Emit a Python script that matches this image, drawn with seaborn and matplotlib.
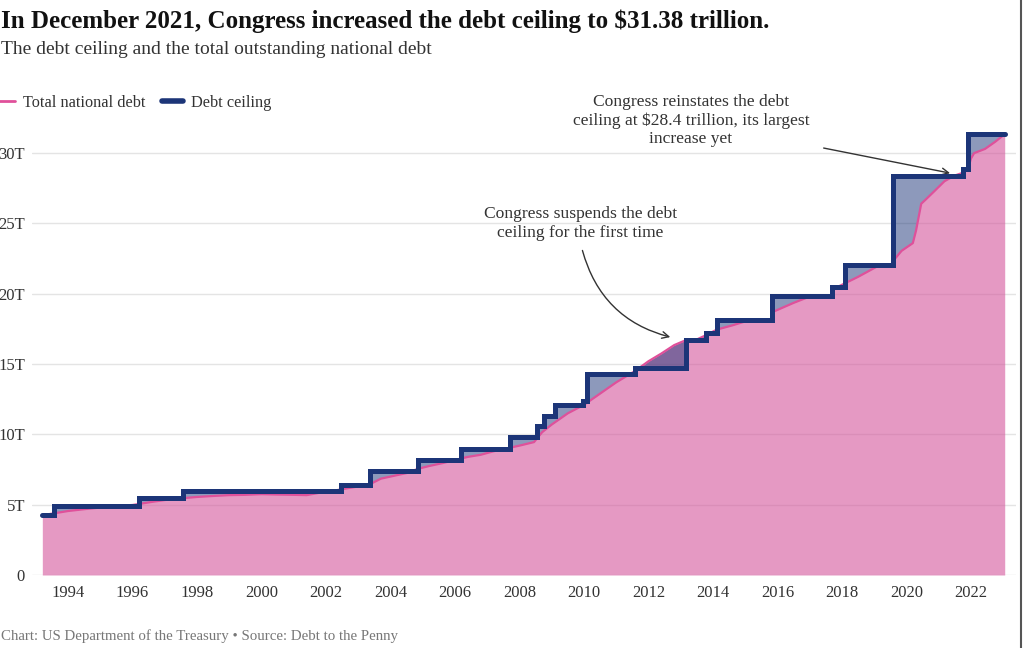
import numpy as np
import matplotlib
matplotlib.use('Agg')
import matplotlib.pyplot as plt
from matplotlib.lines import Line2D
import seaborn as sns

# Debt ceiling steps: year the new limit took effect, limit in trillions
ceiling_years = [1993.2, 1993.55, 1996.2, 1997.57, 2002.47, 2003.37, 2004.85, 2006.18,
                 2007.7, 2008.53, 2008.75, 2009.1, 2009.98, 2010.1, 2011.58, 2013.16,
                 2013.78, 2014.12, 2015.83, 2017.68, 2018.1, 2019.6, 2021.75, 2021.92, 2023.07]
ceiling_values = [4.25, 4.9, 5.5, 5.95, 6.4, 7.384, 8.184, 8.965,
                  9.815, 10.615, 11.315, 12.104, 12.394, 14.294, 14.694, 16.699,
                  17.2, 18.113, 19.809, 20.456, 22.03, 28.401, 28.881, 31.381, 31.381]

# Total outstanding debt (trillions)
debt_years = [1993.2, 1993.6, 1994.0, 1994.5, 1995.0, 1995.5, 1996.0, 1996.2, 1996.6,
              1997.0, 1997.5, 1998.0, 1998.5, 1999.0, 1999.5, 2000.0, 2000.5, 2001.0,
              2001.4, 2001.8, 2002.2, 2002.5, 2003.0, 2003.4, 2003.7, 2004.0, 2004.5,
              2004.85, 2005.2, 2005.6, 2006.0, 2006.4, 2006.8, 2007.2, 2007.7, 2008.0,
              2008.45, 2008.7, 2009.0, 2009.5, 2010.0, 2010.5, 2011.0, 2011.58, 2012.0,
              2012.4, 2012.8, 2013.16, 2013.5, 2013.78, 2014.12, 2014.6, 2015.1, 2015.8,
              2015.9, 2016.5, 2017.0, 2017.68, 2017.75, 2018.1, 2018.5, 2019.1, 2019.55,
              2019.65, 2019.85, 2020.2, 2020.3, 2020.46, 2020.6, 2020.87, 2021.18, 2021.49,
              2021.75, 2021.92, 2022.0, 2022.1, 2022.44, 2022.75, 2023.05]
debt_values = [4.25, 4.40, 4.55, 4.68, 4.80, 4.90, 4.98, 5.05, 5.20,
               5.33, 5.45, 5.55, 5.62, 5.68, 5.70, 5.75, 5.72, 5.70,
               5.68, 5.85, 5.98, 6.10, 6.30, 6.50, 6.85, 7.00, 7.25,
               7.55, 7.75, 7.95, 8.18, 8.40, 8.55, 8.80, 9.05, 9.20,
               9.45, 10.15, 10.70, 11.50, 12.10, 12.90, 13.70, 14.50, 15.20,
               15.75, 16.35, 16.70, 16.75, 17.05, 17.45, 17.75, 18.10, 18.20,
               18.75, 19.35, 19.80, 19.85, 20.35, 20.75, 21.20, 21.95, 22.05,
               22.50, 23.05, 23.60, 24.50, 26.40, 26.70, 27.30, 28.00, 28.40,
               28.60, 28.90, 29.60, 30.00, 30.30, 30.80, 31.35]

year_ticks = list(range(1994, 2023, 2))
value_ticks = [0, 5, 10, 15, 20, 25, 30]
value_labels = ['0', '5T', '10T', '15T', '20T', '25T', '30T']

NAVY = '#1c3578'
PINK_LINE = '#e0509a'
PINK_FILL = '#d4569c'

sns.set_theme(style='white')
plt.rcParams['font.family'] = ['Liberation Serif', 'DejaVu Serif']

fig = plt.figure(figsize=(10.24, 6.48), dpi=100)
ax = fig.add_axes([32 / 1024, 73 / 648, (1016 - 32) / 1024, (575 - 125) / 648])

# Pink area under the total debt
ax.fill_between(debt_years, 0, debt_values, color=PINK_FILL, alpha=0.6, lw=0, zorder=1)

# Gap between ceiling and debt on a common grid
grid = np.union1d(np.linspace(debt_years[0], debt_years[-1], 2000), ceiling_years[:-1])
debt_on_grid = np.interp(grid, debt_years, debt_values)
idx = np.searchsorted(ceiling_years, grid, side='right') - 1
ceiling_on_grid = np.array(ceiling_values)[np.clip(idx, 0, len(ceiling_values) - 1)]
ax.fill_between(grid, debt_on_grid, ceiling_on_grid, color=NAVY, alpha=0.5, lw=0, zorder=2)

sns.lineplot(x=debt_years, y=debt_values, color=PINK_LINE, lw=1.6, ax=ax, zorder=3)
sns.lineplot(x=ceiling_years, y=ceiling_values, color=NAVY, lw=3.6, drawstyle='steps-post',
             ax=ax, zorder=4, solid_capstyle='round', solid_joinstyle='miter')

ax.set_xlim(1992.88, 2023.4)
ax.set_ylim(0, 32)
ax.set_xticks(year_ticks)
ax.set_xticklabels([str(y) for y in year_ticks])
ax.set_yticks(value_ticks)
ax.set_yticklabels(value_labels)
ax.tick_params(axis='both', length=0, labelsize=12, colors='#333333')
ax.tick_params(axis='x', pad=7)
ax.tick_params(axis='y', pad=5)
ax.grid(axis='y', color='#e4e4e4', lw=1)
ax.set_axisbelow(True)
for s in ax.spines.values():
    s.set_visible(False)
ax.set_xlabel('')
ax.set_ylabel('')

# Annotations
ax.text(2013.32, 32.3, 'Congress reinstates the debt\nceiling at $28.4 trillion, its largest\nincrease yet',
        ha='center', va='center', fontsize=12.6, color='#333333', linespacing=1.2)
ax.annotate('', xy=(2021.44, 28.54), xytext=(2017.35, 30.4),
            arrowprops=dict(arrowstyle='->', color='#333333', lw=1))
ax.text(2009.88, 25.0, 'Congress suspends the debt\nceiling for the first time',
        ha='center', va='center', fontsize=12.6, color='#333333', linespacing=1.2)
ax.annotate('', xy=(2012.76, 16.87), xytext=(2009.93, 23.27),
            arrowprops=dict(arrowstyle='->', color='#333333', lw=1,
                            connectionstyle='arc3,rad=0.3'))

# Titles and footer
fig.text(0.001, 1 - 28 / 648, 'In December 2021, Congress increased the debt ceiling to $31.38 trillion.',
         fontsize=18, fontweight='bold', color='#111111', va='baseline')
fig.text(0.001, 1 - 54 / 648, 'The debt ceiling and the total outstanding national debt',
         fontsize=14, color='#333333', va='baseline')
fig.text(0.001, 1 - 636 / 648, 'Chart: US Department of the Treasury \u2022 Source: Debt to the Penny',
         fontsize=10.7, color='#777777', va='center')

handles = [Line2D([], [], color=PINK_LINE, lw=2), Line2D([], [], color=NAVY, lw=4)]
fig.legend(handles, ['Total national debt', 'Debt ceiling'], loc='center left',
           bbox_to_anchor=(-6 / 1024, 1 - 103 / 648), ncol=2, frameon=False, fontsize=11.7,
           handlelength=1.3, handletextpad=0.5, columnspacing=1.0, borderpad=0,
           borderaxespad=0, labelcolor='#333333')

fig.add_artist(Line2D([1021 / 1024, 1021 / 1024], [0, 1], color='#555555', lw=1.5,
                      transform=fig.transFigure))

fig.savefig('out.png', dpi=100)
